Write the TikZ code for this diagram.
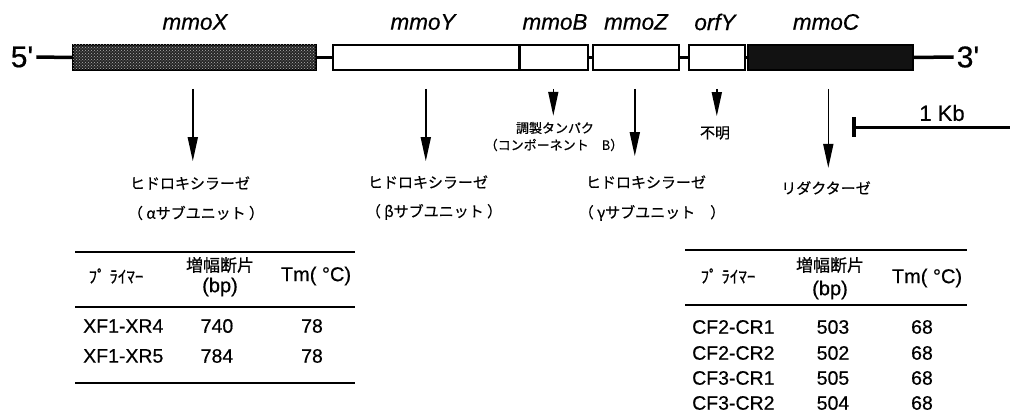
\documentclass[tikz,border=0pt]{standalone}
\usepackage{fontspec}
\setmainfont{Liberation Sans}[FakeBold=0.45]
\setsansfont{Liberation Sans}[FakeBold=0.45]
\newfontfamily\jp{Noto Sans CJK JP}[FakeBold=0.5]
\usetikzlibrary{arrows.meta,patterns}
\begin{document}
\begin{tikzpicture}[x=1pt,y=-1pt,
  gene/.style={draw,line width=1.6pt,minimum height=25pt,inner sep=0pt,anchor=west},
  link/.style={line width=3.5pt},
  arr/.style={line width=1.6pt,-{Triangle[length=24pt,width=10pt]}},
  gname/.style={font=\fontsize{22.5}{24}\selectfont\itshape},
  prime/.style={font=\fontsize{30}{32}\selectfont,inner sep=3pt},
  jl/.style={font=\jp\fontsize{15}{18}\selectfont,inner sep=0pt},
  jls/.style={font=\jp\fontsize{13}{16}\selectfont,inner sep=0pt},
  rule/.style={line width=2.8pt},
  hd/.style={font=\fontsize{20}{22}\selectfont,inner sep=0pt},
  jh/.style={font=\jp\fontsize{17}{20}\selectfont,inner sep=0pt},
  cell/.style={font=\fontsize{19.5}{22}\selectfont,inner sep=0pt},
]
\useasboundingbox (0,0) rectangle (1010,412);
\fill[white] (0,0) rectangle (1010,412);

% ---------- gene map ----------
\node[prime] (p5) at (22,57) {5\textquotesingle};
\node[prime] (p3) at (968,57) {3\textquotesingle};
\node[gene,minimum width=243pt,fill=black!85,
      postaction={pattern=crosshatch dots,pattern color=gray!60}] (mmoX) at (72,57.5) {};
\node[gene,minimum width=186pt,fill=white] (mmoY) at (332,57.5) {};
\node[gene,minimum width=69pt,fill=white] (mmoB) at (518,57.5) {};
\node[gene,minimum width=86pt,fill=white] (mmoZ) at (592,57.5) {};
\node[gene,minimum width=56pt,fill=white] (orfY) at (688,57.5) {};
\node[gene,minimum width=165pt,fill=black!93] (mmoC) at (747,57.5) {};

\draw[link] (p5.east) -- (mmoX.west);
\draw[link] (mmoX.east) -- (mmoY.west);
\draw[line width=3.5pt] (mmoY.north east) -- (mmoY.south east);
\draw[link] (mmoB.east) -- (mmoZ.west);
\draw[link] (mmoZ.east) -- (orfY.west);
\draw[link] (orfY.east) -- (mmoC.west);
\draw[link] (mmoC.east) -- (p3.west);

\node[gname] (tX) at (195,22) {mmoX};
\node[gname] (tY) at (423,22) {mmoY};
\node[gname] (tB) at (555,22) {mmoB};
\node[gname] (tZ) at (636,22) {mmoZ};
\node[gname] (tO) at (715,22) {orfY};
\node[gname] (tC) at (826,22) {mmoC};

% ---------- products ----------
\node[jl] (xl1) at (190,183) {ヒドロキシラーゼ};
\node[jl] (xl2) at (196,213) {（ αサブユニット ）};
\node[jl] (yl1) at (428,182) {ヒドロキシラーゼ};
\node[jl] (yl2) at (434,212) {（ βサブユニット ）};
\node[jls] (bl1) at (555,128) {調製タンパク};
\node[jls] (bl2) at (554,145) {（コンポーネント　B）};
\node[jl] (zl1) at (646,182) {ヒドロキシラーゼ};
\node[jl] (zl2) at (652,213) {（ γサブユニット　）};
\node[jl] (ol) at (715,133) {不明};
\node[jl] (cl) at (826,188) {リダクターゼ};

\draw[arr] ([xshift=-1.5pt,yshift=-18pt]mmoX.south) -- ([xshift=-1.5pt,yshift=15pt]mmoX.south |- xl1.north);
\draw[arr] ([yshift=-18pt]mmoY.south) -- ([yshift=14pt]mmoY.south |- yl1.north);
\draw[arr] ([yshift=-18pt]mmoB.south) -- ([yshift=6pt]mmoB.south |- bl1.north);
\draw[arr] ([xshift=-1pt,yshift=-18pt]mmoZ.south) -- ([xshift=-1pt,yshift=19pt]mmoZ.south |- zl1.north);
\draw[arr] ([yshift=-18pt]orfY.south) -- ([yshift=10pt]orfY.south |- ol.north);
\draw[arr] ([xshift=-2pt,yshift=-18pt]mmoC.south) -- ([xshift=-2pt,yshift=13pt]mmoC.south |- cl.north);

% ---------- scale bar ----------
\node[font=\fontsize{22}{24}\selectfont] (kb) at (942,113) {1 Kb};
\coordinate (sb0) at (854,127);
\coordinate (sb1) at (1012,127);
\draw[line width=3pt] (sb0) -- (sb1);
\draw[line width=3.5pt] ([yshift=10pt]sb0) -- ([yshift=-10pt]sb0);

% ---------- left table ----------
\draw[rule] (75,252) -- (355,252);
\draw[rule] (75,307) -- (355,307);
\draw[rule] (75,383) -- (355,383);
\node[jh] (lh1) at (116,276) {ﾌﾟ ﾗｲﾏｰ};
\node[jh] (lh2) at (220,265) {増幅断片};
\node[hd] (lh2b) at (220,287) {(bp)};
\node[hd] (lh3) at (316,276) {Tm( °C)};
\node[cell,anchor=west] (l11) at (83,326) {XF1-XR4};
\node[cell] (l12) at (217,326) {740};
\node[cell] (l13) at (312,326) {78};
\node[cell,anchor=west] (l21) at (83,356) {XF1-XR5};
\node[cell] (l22) at (217,356) {784};
\node[cell] (l23) at (312,356) {78};

% ---------- right table ----------
\draw[rule] (685,250) -- (967,250);
\draw[rule] (685,305) -- (967,305);
\node[jh] (rh1) at (728,276) {ﾌﾟ ﾗｲﾏｰ};
\node[jh] (rh2) at (830,265) {増幅断片};
\node[hd] (rh2b) at (830,290) {(bp)};
\node[hd] (rh3) at (927,278) {Tm( °C)};
\node[cell,anchor=west] (r11) at (692,327) {CF2-CR1};
\node[cell] (r12) at (833,327) {503};
\node[cell] (r13) at (922,327) {68};
\node[cell,anchor=west] (r21) at (692,353) {CF2-CR2};
\node[cell] (r22) at (833,353) {502};
\node[cell] (r23) at (922,353) {68};
\node[cell,anchor=west] (r31) at (692,378) {CF3-CR1};
\node[cell] (r32) at (833,378) {505};
\node[cell] (r33) at (922,378) {68};
\node[cell,anchor=west] (r41) at (692,403) {CF3-CR2};
\node[cell] (r42) at (833,403) {504};
\node[cell] (r43) at (922,403) {68};
\end{tikzpicture}
\end{document}
